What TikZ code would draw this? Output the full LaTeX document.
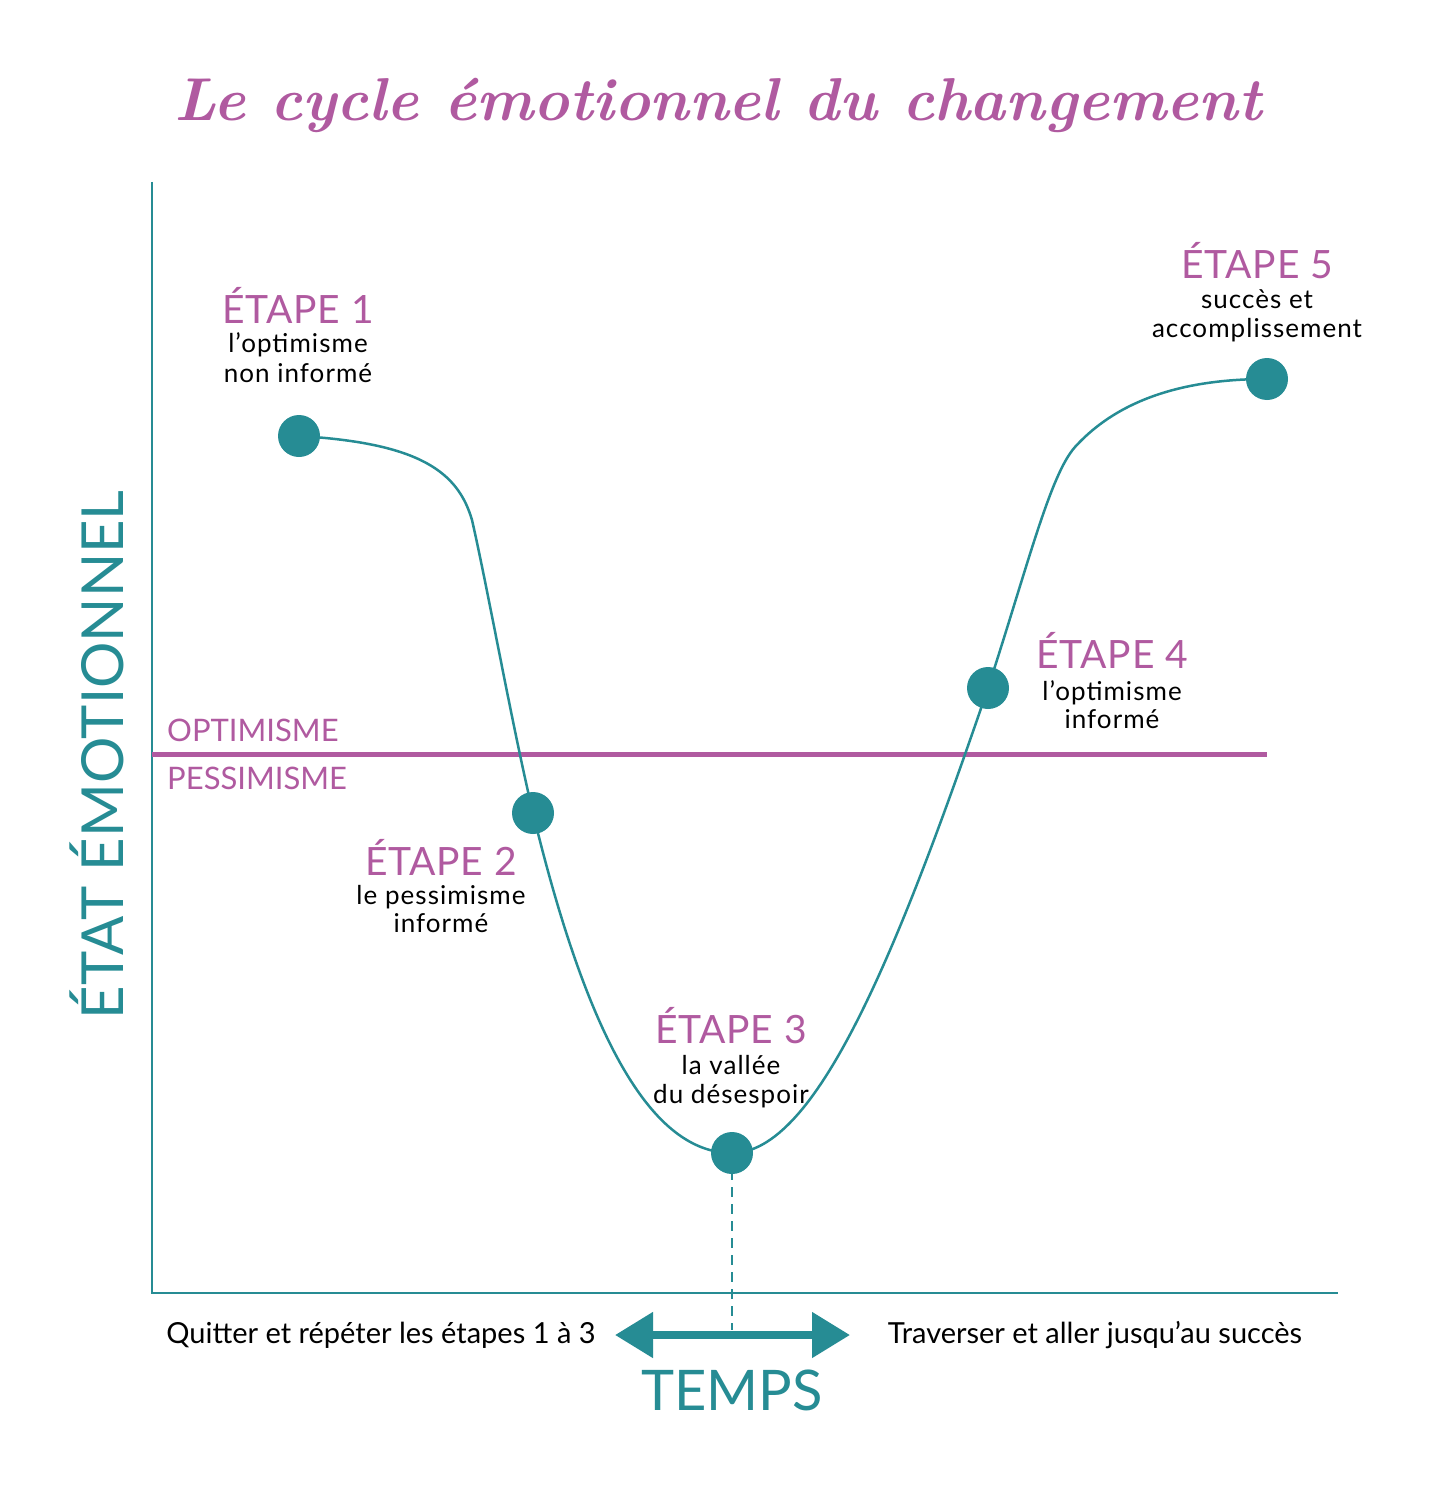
\documentclass[tikz,border=0pt]{standalone}
\usepackage{fontspec}
\setsansfont{Lato}
\usetikzlibrary{arrows.meta}
\definecolor{teal1}{HTML}{268C94}
\definecolor{purp}{HTML}{B05AA0}
\begin{document}
\begin{tikzpicture}[x=1pt,y=-1pt,
  dot/.style={circle,fill=teal1,minimum size=42pt,inner sep=0pt},
  stagetitle/.style={anchor=base,inner sep=0pt,text=purp,font=\sffamily\fontsize{39}{44}\selectfont\addfontfeatures{LetterSpace=2}},
  stagesub/.style={anchor=base,inner sep=0pt,text=black,font=\sffamily\fontsize{26}{30}\selectfont\addfontfeatures{LetterSpace=4}},
  zone/.style={anchor=base west,inner sep=0pt,text=purp,font=\sffamily\fontsize{31}{36}\selectfont},
  axislabel/.style={anchor=base,inner sep=0pt,text=teal1,font=\sffamily\fontsize{58}{64}\selectfont},
  bottomtxt/.style={anchor=base,inner sep=0pt,text=black,font=\sffamily\fontsize{29}{32}\selectfont},
  curve/.style={draw=teal1,line width=2.5pt},
]
\useasboundingbox (0,0) rectangle (1435,1490);
\fill[white] (0,0) rectangle (1435,1490);

% title
\node[anchor=base,inner sep=0pt,text=purp,font=\rmfamily\bfseries\itshape\fontsize{60.5}{68}\selectfont] (title) at (718,121) {Le cycle émotionnel du changement};

% axes
\coordinate (ytop) at (152,182);
\coordinate (origin) at (152,1293);
\coordinate (xend) at (1338,1293);
\draw[teal1,line width=2.5pt] (ytop) -- (origin) -- (xend);

% optimism line
\coordinate (optl) at (152,754);
\coordinate (optr) at (1267,754);
\draw[purp,line width=5pt] (optl) -- (optr);
\node[zone] (opt) at (167,741) {OPTIMISME};
\node[zone] (pes) at (167,789) {PESSIMISME};

% curve points
\coordinate (p1) at (299,436);
\coordinate (k1) at (472,520);
\coordinate (p2) at (533,813);
\coordinate (p3) at (732,1153);
\coordinate (p4) at (988,688);
\coordinate (k2) at (1075,447);
\coordinate (p5) at (1267,379);

\draw[curve] (p1) .. controls (420,443) and (458,472) .. (k1)
  .. controls (488,590) and (512,725) .. (p2)
  .. controls (588,1040) and (652,1153) .. (p3)
  .. controls (815,1153) and (895,960) .. (p4)
  .. controls (1028,565) and (1050,475) .. (k2)
  .. controls (1125,392) and (1200,379) .. (p5);

% dashed time marker
\coordinate (dashend) at (732,1330);
\draw[teal1,line width=2.5pt,dash pattern=on 10pt off 7pt] (p3) -- (dashend);

% dots
\node[dot] (d1) at (p1) {};
\node[dot] (d2) at (p2) {};
\node[dot] (d3) at (p3) {};
\node[dot] (d4) at (p4) {};
\node[dot] (d5) at (p5) {};

% stage labels
\node[stagetitle] (e1) at (298,323) {ÉTAPE 1};
\node[stagesub] (e1a) at (298,352) {l’optimisme};
\node[stagesub] (e1b) at (298,382) {non informé};

\node[stagetitle] (e2) at (441,875) {ÉTAPE 2};
\node[stagesub] (e2a) at (441,904) {le pessimisme};
\node[stagesub] (e2b) at (441,932) {informé};

\node[stagetitle] (e3) at (731,1043) {ÉTAPE 3};
\node[stagesub] (e3a) at (731,1074) {la vallée};
\node[stagesub] (e3b) at (731,1103) {du désespoir};

\node[stagetitle] (e4) at (1112,668) {ÉTAPE 4};
\node[stagesub] (e4a) at (1112,700) {l’optimisme};
\node[stagesub] (e4b) at (1112,728) {informé};

\node[stagetitle] (e5) at (1257,278) {ÉTAPE 5};
\node[stagesub] (e5a) at (1257,308) {succès et};
\node[stagesub] (e5b) at (1257,337) {accomplissement};

% axis labels
\node[axislabel,rotate=90] (ylab) at (123,755) {ÉTAT ÉMOTIONNEL};
\node[axislabel,font=\sffamily\fontsize{56}{64}\selectfont] (xlab) at (732,1410) {TEMPS};

% time arrow
\coordinate (al) at (615,1335);
\coordinate (ar) at (850,1335);
\draw[teal1,line width=8pt,{Triangle[length=38pt,width=44pt]}-{Triangle[length=38pt,width=44pt]}] (al) -- (ar);

\node[bottomtxt] (quit) at (381,1343) {Quitter et répéter les étapes 1 à 3};
\node[bottomtxt] (trav) at (1095,1343) {Traverser et aller jusqu’au succès};
\end{tikzpicture}
\end{document}
